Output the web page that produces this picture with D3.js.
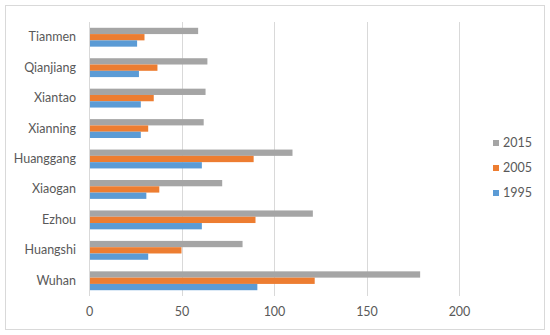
<!DOCTYPE html>
<html>
<head>
<meta charset="utf-8">
<script src="https://cdn.jsdelivr.net/npm/d3@7"></script>
<style>
  body { margin: 0; background: #fff; }
  text { font-family: Lato, "Open Sans", sans-serif; fill: #595959; }
</style>
</head>
<body>
<div id="chart"></div>
<script>
const cities = ["Wuhan", "Huangshi", "Ezhou", "Xiaogan", "Huanggang", "Xianning", "Xiantao", "Qianjiang", "Tianmen"];
const years = ["2015", "2005", "1995"];
const v2015 = [179, 83, 121, 72, 110, 62, 63, 64, 59];
const v2005 = [122, 50, 90, 38, 89, 32, 35, 37, 30];
const v1995 = [91, 32, 61, 31, 61, 28, 28, 27, 26];
const xTicks = [0, 50, 100, 150, 200];
const colors = ["#a5a5a5", "#ed7d31", "#5b9bd5"];

const width = 550, height = 335;
const plot = { left: 89, right: 459, top: 22, bottom: 296 };

const series = { "2015": v2015, "2005": v2005, "1995": v1995 };
const rows = cities.map((c, i) => ({ city: c, vals: years.map(y => ({ year: y, value: series[y][i] })) }));

const svg = d3.select("#chart").append("svg")
    .attr("width", width)
    .attr("height", height);

svg.append("rect")
    .attr("x", 5.5).attr("y", 5.5)
    .attr("width", 539).attr("height", 324)
    .attr("fill", "#fff")
    .attr("stroke", "#d9d9d9");

const x = d3.scaleLinear().domain([0, 200]).range([plot.left, plot.right]);

// Tianmen at top, Wuhan at bottom
const y = d3.scaleBand()
    .domain(cities.slice().reverse())
    .range([plot.top, plot.bottom])
    .paddingInner(0.38)
    .paddingOuter(0.19);

const yInner = d3.scaleBand().domain(years).range([0, y.bandwidth()]);
const color = d3.scaleOrdinal().domain(years).range(colors);

// gridlines
svg.append("g")
    .selectAll("line")
    .data(xTicks)
    .join("line")
    .attr("x1", d => Math.round(x(d)) + 0.5)
    .attr("x2", d => Math.round(x(d)) + 0.5)
    .attr("y1", plot.top)
    .attr("y2", plot.bottom)
    .attr("stroke", "#d9d9d9");

// bars
const groups = svg.append("g")
    .selectAll("g")
    .data(rows)
    .join("g")
    .attr("transform", d => `translate(0,${y(d.city)})`);

groups.selectAll("rect")
    .data(d => d.vals)
    .join("rect")
    .attr("x", x(0) + 1)
    .attr("y", d => yInner(d.year))
    .attr("width", d => x(d.value) - x(0) - 1)
    .attr("height", yInner.bandwidth())
    .attr("fill", d => color(d.year));

// x axis labels
const xAxis = svg.append("g")
    .attr("transform", `translate(0,${plot.bottom})`)
    .call(d3.axisBottom(x).tickValues(xTicks).tickSize(0).tickPadding(11));
xAxis.select(".domain").remove();
xAxis.selectAll("text")
    .style("font-family", "Lato, 'Open Sans', sans-serif")
    .style("font-size", "12.5px")
    .attr("fill", "#595959");

// y axis labels
const yAxis = svg.append("g")
    .attr("transform", `translate(${plot.left},0)`)
    .call(d3.axisLeft(y).tickSize(0).tickPadding(13));
yAxis.select(".domain").remove();
yAxis.selectAll("text")
    .style("font-family", "Lato, 'Open Sans', sans-serif")
    .style("font-size", "12.5px")
    .attr("fill", "#595959");

// legend
const legend = svg.append("g")
    .selectAll("g")
    .data(years)
    .join("g")
    .attr("transform", (d, i) => `translate(493,${143 + i * 25})`);

legend.append("rect")
    .attr("x", 0).attr("y", -3)
    .attr("width", 6).attr("height", 6)
    .attr("fill", d => color(d));

legend.append("text")
    .attr("x", 10)
    .attr("y", 0)
    .attr("dy", "0.35em")
    .style("font-size", "12.5px")
    .text(d => d);
</script>
</body>
</html>
